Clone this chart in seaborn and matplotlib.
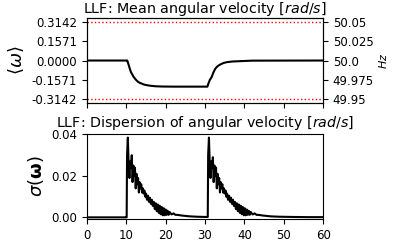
import matplotlib
matplotlib.use('Agg')
import matplotlib.pyplot as plt
import numpy as np
import pandas as pd
import seaborn as sns

# Mean angular velocity (rad/s)
t_mean = [0, 10.0, 10.25, 10.6, 10.9, 11.2, 11.5, 11.9, 12.2, 12.6, 13.0, 13.5,
          13.9, 14.5, 15.2, 16.0, 16.5, 17.5, 19.0, 22.0, 30.6, 30.9, 31.2,
          31.7, 32.1, 32.6, 33.2, 33.9, 34.7, 35.6, 37.0, 39.0, 42.0, 60]
w_mean = [0.0, 0.0, 0.0, -0.035, -0.067, -0.095, -0.112, -0.135, -0.147, -0.162,
          -0.174, -0.183, -0.188, -0.196, -0.201, -0.205, -0.207, -0.210, -0.212,
          -0.213, -0.213, -0.185, -0.160, -0.134, -0.100, -0.067, -0.046, -0.032,
          -0.020, -0.013, -0.008, -0.005, -0.001, 0.0]

# Dispersion of angular velocity, first disturbance
t_disp1 = [0, 10.0, 10.1, 10.2, 10.4, 10.6, 10.8, 11.0, 11.2, 11.4, 11.6, 11.8,
           12.0, 12.2, 12.4, 12.6, 12.8, 13.0, 13.2, 13.4, 13.6, 13.8, 14.0, 14.2,
           14.4, 14.6, 14.8, 15.0, 15.25, 15.5, 15.75, 16.0, 16.25, 16.5, 16.75,
           17.0, 17.25, 17.5, 17.75, 18.0, 18.25, 18.5, 18.75, 19.0, 19.25, 19.5,
           19.75, 20.0, 20.25, 20.5, 20.75, 21.0, 21.5, 22.0, 22.5, 23.0, 24.0,
           25.0, 26.0, 27.0, 28.0, 30.0]
s_disp1 = [0.0, 0.0, 0.0, 0.030, 0.0385, 0.026, 0.019, 0.027, 0.024, 0.030, 0.017,
           0.025, 0.020, 0.024, 0.014, 0.021, 0.016, 0.019, 0.012, 0.017, 0.014,
           0.016, 0.012, 0.014, 0.0115, 0.013, 0.010, 0.0115, 0.0085, 0.0105,
           0.0075, 0.0095, 0.0065, 0.0085, 0.0055, 0.0075, 0.0040, 0.0068, 0.0030,
           0.0062, 0.0022, 0.0056, 0.0015, 0.0050, 0.0010, 0.0044, 0.0010, 0.0038,
           0.0012, 0.0032, 0.0012, 0.0026, 0.0014, 0.0019, 0.0012, 0.0012, 0.0009,
           0.0007, 0.0005, 0.0004, 0.0003, 0.0002]

# Dispersion of angular velocity, second disturbance
t_disp2 = [30.6, 30.7, 30.8, 31.0, 31.2, 31.4, 31.6, 31.8, 32.0, 32.2, 32.4,
           32.6, 32.8, 33.0, 33.2, 33.4, 33.6, 33.8, 34.0, 34.2, 34.4, 34.6, 34.8,
           35.0, 35.2, 35.4, 35.6, 35.85, 36.1, 36.35, 36.6, 36.85, 37.1, 37.35,
           37.6, 37.85, 38.1, 38.35, 38.6, 38.85, 39.1, 39.35, 39.6, 39.85, 40.1,
           40.35, 40.6, 40.85, 41.1, 41.35, 41.6, 42.1, 42.6, 43.1, 43.6, 44.6,
           45.6, 46.6, 47.6, 49.0, 52.0, 56.0, 60.0]
s_disp2 = [0.0002, 0.0002, 0.030, 0.0385, 0.026, 0.019, 0.027, 0.024, 0.029,
           0.017, 0.025, 0.020, 0.024, 0.014, 0.021, 0.016, 0.019, 0.012, 0.017,
           0.014, 0.016, 0.012, 0.014, 0.0115, 0.013, 0.010, 0.0115, 0.0085,
           0.0105, 0.0075, 0.0095, 0.0065, 0.0085, 0.0055, 0.0075, 0.0040, 0.0068,
           0.0030, 0.0062, 0.0022, 0.0056, 0.0015, 0.0050, 0.0010, 0.0044, 0.0010,
           0.0038, 0.0012, 0.0032, 0.0012, 0.0026, 0.0014, 0.0019, 0.0012, 0.0012,
           0.0009, 0.0007, 0.0005, 0.0004, 0.0003, 0.0002, 0.0001, 0.0001]

omega_max = 0.3142
hz_ticks = [49.95, 49.975, 50.0, 50.025, 50.05]
hz_labels = ['49.95', '49.975', '50.0', '50.025', '50.05']

df_mean = pd.DataFrame({'t': t_mean, 'w': w_mean})
df_disp = pd.DataFrame({'t': t_disp1 + t_disp2, 's': s_disp1 + s_disp2})

sns.set_style('ticks')
plt.rcParams['font.family'] = ['DejaVu Sans']
plt.rcParams['xtick.labelsize'] = 8.5
plt.rcParams['ytick.labelsize'] = 8.5
for key in ['text.color', 'axes.labelcolor', 'xtick.color', 'ytick.color', 'axes.edgecolor']:
    plt.rcParams[key] = 'black'

fig, axes = plt.subplots(2, 1, figsize=(3.95, 2.42), dpi=100, sharex=True)
fig.subplots_adjust(left=0.22, right=0.818, top=0.925, bottom=0.095, hspace=0.37)

# Top: mean angular velocity
ax = axes[0]
sns.lineplot(data=df_mean, x='t', y='w', color='black', lw=1.5, ax=ax)
ax.axhline(omega_max, color='red', ls=':', lw=1)
ax.axhline(-omega_max, color='red', ls=':', lw=1)
ax.set_ylim(-1.1 * omega_max, 1.1 * omega_max)
ax.set_yticks([-omega_max, -omega_max / 2, 0, omega_max / 2, omega_max])
ax.set_yticklabels(['%.4f' % v for v in [-omega_max, -omega_max / 2, 0, omega_max / 2, omega_max]])
ax.set_title('LLF: Mean angular velocity [$rad/s$]', fontsize=10.3, pad=1.5)
ax.set_ylabel(r'$\langle\omega\rangle$', fontsize=13)
ax.set_xlabel('')

ax2 = ax.twinx()
ax2.set_ylim(50 - 1.1 * omega_max / (2 * np.pi), 50 + 1.1 * omega_max / (2 * np.pi))
ax2.set_yticks(hz_ticks)
ax2.set_yticklabels(hz_labels)
ax2.set_ylabel('$Hz$', fontsize=8, labelpad=2)

# Bottom: dispersion
ax = axes[1]
sns.lineplot(data=df_disp, x='t', y='s', color='black', lw=1.5, ax=ax)
ax.set_xlim(0, 60)
ax.set_ylim(-0.0008, 0.0401)
ax.set_yticks([0, 0.02, 0.04])
ax.set_yticklabels(['0.00', '0.02', '0.04'])
ax.set_xticks([0, 10, 20, 30, 40, 50, 60])
ax.set_title('LLF: Dispersion of angular velocity [$rad/s$]', fontsize=10.3, pad=5)
ax.set_ylabel(r'$\sigma(\mathbf{\omega})$', fontsize=13)
ax.set_xlabel('')

fig.savefig('out.png', dpi=100)
